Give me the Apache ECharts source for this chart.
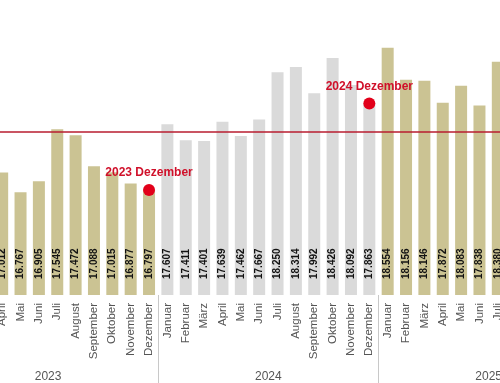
<!DOCTYPE html>
<html><head><meta charset="utf-8">
<script src="https://cdn.jsdelivr.net/npm/echarts@6/dist/echarts.min.js"></script>
<style>html,body{margin:0;padding:0;background:#fff}#c{width:500px;height:383px}</style>
</head><body><div id="c"></div>
<script>
const monthNames = ['Januar','Februar','März','April','Mai','Juni','Juli','August','September','Oktober','November','Dezember'];
const months = ['April','Mai','Juni','Juli','August','September','Oktober','November','Dezember',
  'Januar','Februar','März','April','Mai','Juni','Juli','August','September','Oktober','November','Dezember',
  'Januar','Februar','März','April','Mai','Juni','Juli'];
const years = ['2023','2023','2023','2023','2023','2023','2023','2023','2023',
  '2024','2024','2024','2024','2024','2024','2024','2024','2024','2024','2024','2024',
  '2025','2025','2025','2025','2025','2025','2025'];
const values = [17012,16767,16905,17545,17472,17088,17015,16877,16797,
  17607,17411,17401,17639,17462,17667,18250,18314,17992,18426,18092,17863,
  18554,18156,18146,17872,18083,17838,18380];
const yearLabels = ['2023','2024','2025'];
const grayYears = ['2024'];
const referenceValue = 17510;
const highlights = ['2023 Dezember','2024 Dezember'];

// year label positions (centre of the full 12-month year on the axis)
const yearCenter = {};
yearLabels.forEach(y => {
  const i = years.indexOf(y);
  const m = monthNames.indexOf(months[i]);
  yearCenter[i - m + 6] = y;
});
const fmt = v => Math.floor(v / 1000) + '.' + String(v % 1000).padStart(3, '0');
const dotData = months.map((m, i) => highlights.indexOf(years[i] + ' ' + m) >= 0 ? values[i] : null);

const chart = echarts.init(document.getElementById('c'));
chart.setOption({
  animation: false,
  grid: { left: -7, right: -7, top: 11.5, bottom: 88, outerBoundsMode: 'none', containLabel: false },
  xAxis: [{
    type: 'category', data: months, position: 'bottom',
    axisLine: { show: false },
    axisTick: { show: true, length: 90, interval: (idx) => idx > 0 && years[idx] !== years[idx - 1],
      lineStyle: { color: '#c8c8c8', width: 1 } },
    axisLabel: { rotate: 90, interval: 0, margin: 8, fontSize: 11.5, color: '#555', fontFamily: 'Liberation Sans, Arial, sans-serif' }
  }, {
    type: 'value', min: 0, max: months.length, interval: 3, position: 'bottom',
    axisLine: { show: false }, axisTick: { show: false }, splitLine: { show: false },
    axisLabel: { margin: 76, fontSize: 12, color: '#555', fontFamily: 'Liberation Sans, Arial, sans-serif',
      showMinLabel: true, showMaxLabel: true,
      formatter: v => yearCenter[v] || '' }
  }],
  yAxis: { type: 'value', min: 15500, max: 19000, show: false, splitLine: { show: false } },
  series: [{
    type: 'bar', data: values, barWidth: 12, xAxisIndex: 0,
    itemStyle: { color: p => grayYears.indexOf(years[p.dataIndex]) >= 0 ? '#dadada' : '#cbc393' },
    label: { show: true, position: 'insideBottom', rotate: 90, align: 'left', verticalAlign: 'middle',
      distance: 16, fontSize: 10, fontWeight: 'bold', color: '#111',
      fontFamily: 'Liberation Sans, Arial, sans-serif', formatter: p => fmt(p.value) },
    markLine: { silent: true, symbol: 'none', label: { show: false },
      lineStyle: { color: '#b81c2f', width: 1.5, type: 'solid' },
      data: [{ yAxis: referenceValue }] }
  }, {
    type: 'scatter', data: dotData, symbolSize: 12, xAxisIndex: 0, z: 5,
    itemStyle: { color: '#e2001a', opacity: 1 },
    label: { show: true, position: 'top', distance: 5, fontSize: 12, fontWeight: 'bold', color: '#d0102a',
      fontFamily: 'Liberation Sans, Arial, sans-serif',
      formatter: p => years[p.dataIndex] + ' ' + months[p.dataIndex] }
  }]
});
</script></body></html>
